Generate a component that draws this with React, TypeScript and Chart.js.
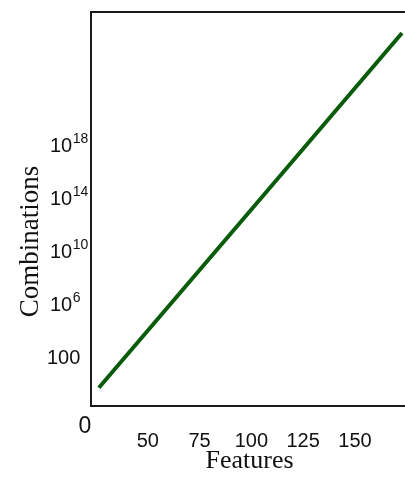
import React, { useEffect, useRef } from "react";
import { Chart, registerables } from "chart.js";

Chart.register(...registerables);

// ---- data ----
const FEATURES = [26.4, 100, 172.7];
const COMBINATIONS = [0.47, 1.3e13, 2.6e26];
const X_TICKS = [50, 75, 100, 125, 150];
const Y_TICK_VALUES = [1e2, 1e6, 1e10, 1e14, 1e18];
const Y_TICK_BASES = ["100", "10", "10", "10", "10"];
const Y_TICK_EXPONENTS = ["", "6", "10", "14", "18"];
const X_TITLE = "Features";
const Y_TITLE = "Combinations";
const ORIGIN_LABEL = "0";

const SANS = '"Liberation Sans", Arial, sans-serif';
const SERIF = '"Liberation Serif", "Times New Roman", serif';
const INK = "#111111";

const decorPlugin = {
  id: "decor",
  afterDraw(chart: any) {
    const { ctx, chartArea: a, scales } = chart;
    const y = scales.y;
    ctx.save();
    // plot frame
    ctx.strokeStyle = "#1a1a1a";
    ctx.lineWidth = 2;
    ctx.strokeRect(a.left, a.top, a.right - a.left, a.bottom - a.top);

    // y tick labels with superscript exponents
    ctx.fillStyle = INK;
    ctx.textAlign = "left";
    ctx.textBaseline = "alphabetic";
    Y_TICK_VALUES.forEach((v, i) => {
      const py = y.getPixelForValue(v);
      const base = Y_TICK_BASES[i];
      const sup = Y_TICK_EXPONENTS[i];
      const bx = sup ? a.left - 41 : a.left - 44;
      ctx.font = "20px " + SANS;
      ctx.fillText(base, bx, py + 7);
      if (sup) {
        const w = ctx.measureText(base).width;
        ctx.font = "14px " + SANS;
        ctx.fillText(sup, bx + w + 0.5, py - 1.5);
      }
    });

    // origin label
    ctx.font = "23px " + SANS;
    ctx.textAlign = "center";
    ctx.fillText(ORIGIN_LABEL, a.left - 6, a.bottom + 27);

    // y axis title
    ctx.translate(38, 241.5);
    ctx.rotate(-Math.PI / 2);
    ctx.font = "27px " + SERIF;
    ctx.textAlign = "center";
    ctx.textBaseline = "alphabetic";
    ctx.fillText(Y_TITLE, 0, 0);
    ctx.restore();
  },
};

function CombinationsChart() {
  const ref = useRef<HTMLCanvasElement | null>(null);
  useEffect(() => {
    if (!ref.current) return;
    const chart = new Chart(ref.current, {
      type: "line",
      data: {
        datasets: [
          {
            data: FEATURES.map((f, i) => ({ x: f, y: COMBINATIONS[i] })),
            borderColor: "#0a5c0a",
            borderWidth: 4,
            pointRadius: 0,
            tension: 0,
            fill: false,
          },
        ],
      },
      options: {
        animation: false,
        responsive: false,
        devicePixelRatio: 1,
        layout: { padding: { top: 12, left: 0, right: 2, bottom: 0 } },
        plugins: { legend: { display: false }, tooltip: { enabled: false } },
        scales: {
          x: {
            type: "linear",
            min: 22.6,
            max: 175.6,
            afterBuildTicks: (s: any) => {
              s.ticks = X_TICKS.map((value) => ({ value }));
            },
            afterFit: (s: any) => {
              s.height = 75;
            },
            grid: { display: false, drawTicks: false },
            border: { display: false },
            ticks: {
              font: { family: SANS, size: 20 },
              color: INK,
              padding: 23,
              maxRotation: 0,
              autoSkip: false,
            },
            title: {
              display: true,
              text: X_TITLE,
              font: { family: SERIF, size: 26 },
              color: INK,
              padding: { top: 0, bottom: 4 },
            },
          },
          y: {
            type: "logarithmic",
            min: 0.02,
            max: 1e28,
            afterBuildTicks: (s: any) => {
              s.ticks = Y_TICK_VALUES.map((value) => ({ value }));
            },
            afterFit: (s: any) => {
              s.width = 91;
            },
            grid: { display: false, drawTicks: false },
            border: { display: false },
            ticks: { display: false },
          },
        },
      },
      plugins: [decorPlugin],
    });
    return () => chart.destroy();
  }, []);
  return <canvas ref={ref} width={410} height={481} style={{ display: "block", width: 410, height: 481 }} />;
}

export default function App() {
  return (
    <div
      style={{
        position: "fixed",
        left: 0,
        top: 0,
        width: 405,
        height: 481,
        overflow: "hidden",
        background: "#ffffff",
      }}
    >
      <CombinationsChart />
    </div>
  );
}
